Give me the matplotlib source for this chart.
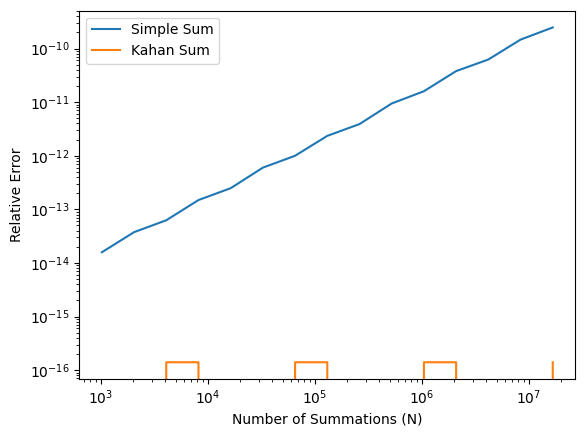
import numpy as np
import matplotlib
matplotlib.use("Agg")
import matplotlib.pyplot as plt

# N = 2^10 .. 2^24
n_values = [2 ** k for k in range(10, 25)]

simple_err = [1.58e-14, 3.75e-14, 6.25e-14, 1.49e-13, 2.48e-13, 6.0e-13, 1.0e-12,
              2.35e-12, 3.9e-12, 9.45e-12, 1.6e-11, 3.8e-11, 6.25e-11, 1.47e-10, 2.48e-10]

kahan_err = [0.0, 0.0, 1.4e-16, 1.4e-16, 0.0, 0.0, 1.4e-16, 1.4e-16,
             0.0, 0.0, 1.4e-16, 1.4e-16, 0.0, 0.0, 1.4e-16]

fig = plt.figure(figsize=(5.84, 4.37), dpi=100)
ax = fig.add_axes([79.3 / 584, 58 / 437, 496 / 584, 368.3 / 437])

ax.plot(n_values, simple_err, label="Simple Sum")
ax.plot(n_values, kahan_err, label="Kahan Sum")
ax.set_xscale("log")
ax.set_yscale("log")
ax.set_xlabel("Number of Summations (N)")
ax.set_ylabel("Relative Error")
ax.legend(loc="upper left")

fig.savefig("out.png", dpi=100)
